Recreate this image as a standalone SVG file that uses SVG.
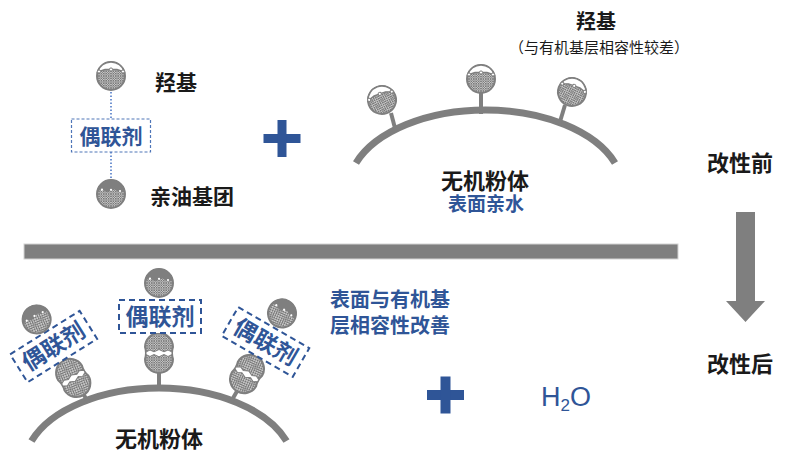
<svg xmlns="http://www.w3.org/2000/svg" width="785" height="452" viewBox="0 0 785 452">
  <defs>
    <style>
      text { font-family: 'Liberation Sans', 'Noto Sans CJK SC', sans-serif; }
      .k { fill: #1a1a1a; font-weight: 700; }
      .b { fill: #2f5597; font-weight: 700; }
      .arc { fill: none; stroke: #7f7f7f; stroke-width: 7; }
      .stick { stroke: #7f7f7f; stroke-width: 4; }
      .dash { fill: #fff; stroke: #2f5597; stroke-width: 2; stroke-dasharray: 6 4; }
      .plus { fill: #2f5597; }
      .edge { stroke: #7f7f7f; stroke-width: 2; }
    </style>
    <!-- fine cross-hatch used inside the spheres -->
    <pattern id="mesh" width="2.4" height="2.4" patternUnits="userSpaceOnUse">
      <rect width="2.4" height="2.4" fill="#cfcfcf"/>
      <path d="M0,0L2.4,2.4M2.4,0L0,2.4" stroke="#6e6e6e" stroke-width="0.7"/>
    </pattern>
    <!-- hydroxyl sphere: light cap with a node chord -->
    <g id="oh">
      <circle r="14" fill="url(#mesh)" class="edge"/>
      <path d="M-13.4,-4 L-6,-6.5 L6,-6.5 L13.4,-4 A14,14 0 0 0 -13.4,-4 Z" fill="#fff" stroke="#7f7f7f" stroke-width="1.4"/>
      <circle cx="-12" cy="-4.5" r="1.6" fill="#fff" stroke="#7f7f7f" stroke-width="1"/>
      <circle cx="0" cy="-6.5" r="1.6" fill="#fff" stroke="#7f7f7f" stroke-width="1"/>
      <circle cx="12" cy="-4.5" r="1.6" fill="#fff" stroke="#7f7f7f" stroke-width="1"/>
    </g>
    <!-- oleophilic sphere: dark cap with a wavy rim -->
    <g id="oil">
      <circle r="14" fill="url(#mesh)" class="edge"/>
      <path d="M-13.7,-3 Q-10,-6 -6,-3.5 Q-3,-1.5 0,-4 Q3,-6.5 6,-3.5 Q10,-1 13.7,-3 A14,14 0 0 0 -13.7,-3 Z" fill="#7f7f7f" stroke="#7f7f7f" stroke-width="1"/>
      <circle cx="-9" cy="-4.3" r="1.1" fill="#fff"/>
      <circle cx="0" cy="-4.2" r="1.1" fill="#fff"/>
      <circle cx="9" cy="-3" r="1.1" fill="#fff"/>
    </g>
    <!-- bonded pair: coupling end joined to a hydroxyl -->
    <g id="pair">
      <path d="M-14,-6 A14,14 0 0 1 14,-6 Q12,0 14,6 A14,14 0 0 1 -14,6 Q-12,0 -14,-6 Z" fill="url(#mesh)" class="edge"/>
      <path d="M-13,-1 L-9,-3 L-5,-1.2 L0,-3.5 L5,-1.2 L9,-3 L13,-1 L13,1.5 L9,3.5 L5,1.5 L0,3.8 L-5,1.5 L-9,3.5 L-13,1.5 Z" fill="#fff" stroke="#7f7f7f" stroke-width="1"/>
    </g>
  </defs>

  <rect width="785" height="452" fill="#fff"/>

  <!-- connectors of the legend -->
  <g id="connectors">
    <line x1="111" y1="92" x2="111" y2="119" stroke="#4472c4" stroke-width="1.5" stroke-dasharray="1.5 2"/>
    <line x1="111" y1="152" x2="111" y2="179" stroke="#4472c4" stroke-width="1.5" stroke-dasharray="1.5 2"/>
  </g>

  <!-- legend -->
  <g id="legend-hydroxyl">
    <use href="#oh" x="111" y="76"/>
    <text x="155" y="90" class="k" font-size="21">羟基</text>
  </g>
  <g id="legend-coupling">
    <rect x="71.5" y="119" width="79" height="33" fill="#fff" stroke="#4f76b8" stroke-width="1.2" stroke-dasharray="3 2"/>
    <text x="111" y="144" class="b" font-size="21" text-anchor="middle">偶联剂</text>
  </g>
  <g id="legend-oil">
    <use href="#oil" x="111" y="194"/>
    <text x="150" y="204" class="k" font-size="21">亲油基团</text>
  </g>

  <g id="plus-top" class="plus">
    <rect x="263.5" y="134" width="37" height="9"/>
    <rect x="277.5" y="120" width="9" height="37"/>
  </g>

  <!-- powder before treatment -->
  <g id="powder-before">
    <path class="arc" d="M356,163 A137.6,80 0 0 1 615,163"/>
    <line class="stick" x1="391" y1="113" x2="396" y2="132"/>
    <line class="stick" x1="481" y1="93" x2="481" y2="114"/>
    <line class="stick" x1="565" y1="105" x2="559" y2="125"/>
    <use href="#oh" transform="translate(382,100) rotate(-20)"/>
    <use href="#oh" transform="translate(481,79)"/>
    <use href="#oh" transform="translate(572,92) rotate(20)"/>
    <text x="485" y="189" class="k" font-size="22" text-anchor="middle">无机粉体</text>
    <text x="486" y="211" class="b" font-size="19" text-anchor="middle">表面亲水</text>
    <text x="596" y="29" class="k" font-size="20" text-anchor="middle">羟基</text>
    <text x="599" y="53" fill="#1a1a1a" font-size="15" text-anchor="middle">（与有机基层相容性较差）</text>
  </g>

  <!-- stage labels and arrow -->
  <g id="stage-before">
    <text x="707" y="171" class="k" font-size="22">改性前</text>
  </g>
  <g id="stage-arrow">
    <polygon points="736,212 755,212 755,301 765,301 745.5,322 726,301 736,301" fill="#7f7f7f"/>
  </g>
  <g id="stage-after">
    <text x="707" y="372" class="k" font-size="22">改性后</text>
  </g>

  <!-- divider -->
  <rect id="divider" x="24" y="244" width="654" height="15" fill="#7f7f7f" stroke="#d4d4d4" stroke-width="1"/>

  <!-- powder after treatment -->
  <g id="powder-after">
    <path class="arc" d="M31.5,441 A135.5,80 0 0 1 286.5,441"/>
    <text x="159" y="447" class="k" font-size="22" text-anchor="middle">无机粉体</text>
  </g>

  <g id="chain-left" transform="translate(87,400) rotate(-32)">
    <line class="stick" x1="0" y1="3" x2="0" y2="-8"/>
    <use href="#pair" y="-26"/>
    <rect class="dash" x="-41" y="-79.5" width="82" height="33"/>
    <text x="0" y="-55" class="b" font-size="23" text-anchor="middle">偶联剂</text>
    <use href="#oil" y="-95"/>
  </g>
  <g id="chain-mid" transform="translate(159,388)">
    <line class="stick" x1="0" y1="2" x2="0" y2="-16"/>
    <use href="#pair" y="-35"/>
    <rect class="dash" x="-40" y="-88" width="82" height="33"/>
    <text x="1" y="-63" class="b" font-size="23" text-anchor="middle">偶联剂</text>
    <use href="#oil" y="-105"/>
  </g>
  <g id="chain-right" transform="translate(232,400) rotate(30)">
    <line class="stick" x1="0" y1="3" x2="0" y2="-12"/>
    <use href="#pair" y="-30"/>
    <rect class="dash" x="-41" y="-83.5" width="82" height="33"/>
    <text x="0" y="-59" class="b" font-size="23" text-anchor="middle">偶联剂</text>
    <use href="#oil" y="-100"/>
  </g>

  <g id="note-after">
    <text x="330" y="307" class="b" font-size="20">表面与有机基</text>
    <text x="330" y="333" class="b" font-size="20">层相容性改善</text>
  </g>

  <g id="plus-bottom" class="plus">
    <rect x="427" y="390" width="37" height="10"/>
    <rect x="440.5" y="376.5" width="10" height="37"/>
  </g>

  <g id="water">
    <text x="541" y="406" fill="#2f5597" font-family="'Liberation Sans', Arial, sans-serif" font-size="27">H<tspan font-size="17" dy="5">2</tspan><tspan font-size="27" dy="-5">O</tspan></text>
  </g>
</svg>
